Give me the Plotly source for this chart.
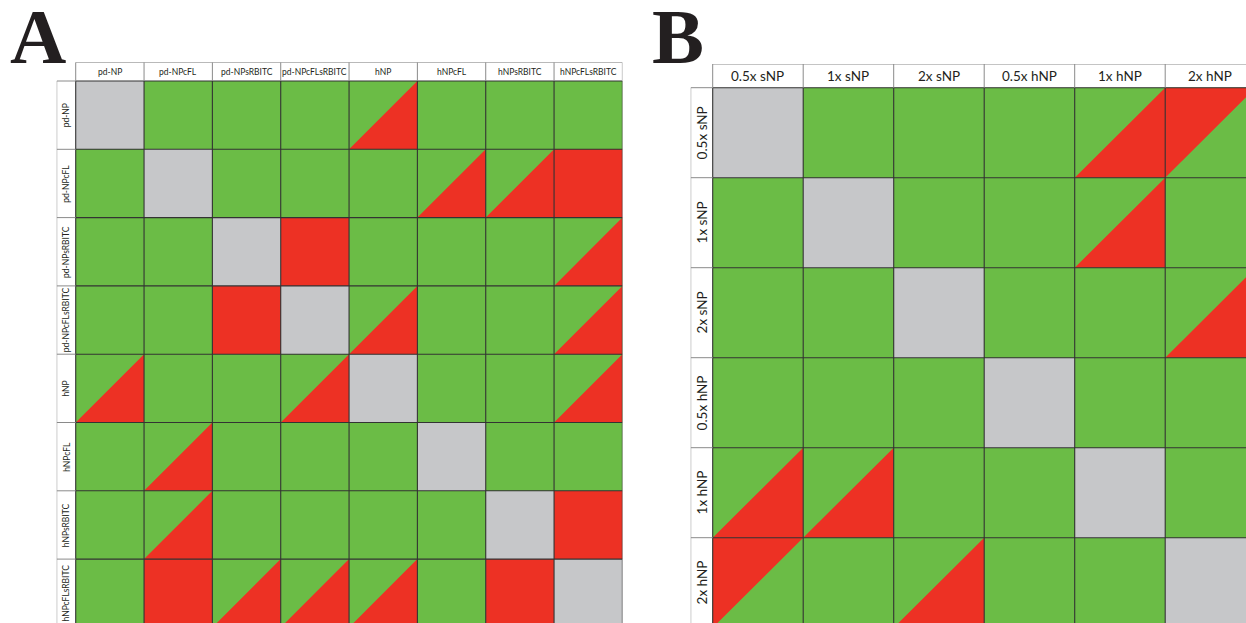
import plotly.graph_objects as go

# Pairwise comparison codes: 0 = self (n/a), 1 = green, 2 = red,
# 3 = split with red lower-right half, 4 = split with red upper-left half
labels_a = ["pd-NP", "pd-NPcFL", "pd-NPsRBITC", "pd-NPcFLsRBITC",
            "hNP", "hNPcFL", "hNPsRBITC", "hNPcFLsRBITC"]
codes_a = [
    [0, 1, 1, 1, 3, 1, 1, 1],
    [1, 0, 1, 1, 1, 3, 3, 2],
    [1, 1, 0, 2, 1, 1, 1, 3],
    [1, 1, 2, 0, 3, 1, 1, 3],
    [3, 1, 1, 3, 0, 1, 1, 3],
    [1, 3, 1, 1, 1, 0, 1, 1],
    [1, 3, 1, 1, 1, 1, 0, 2],
    [1, 2, 3, 3, 3, 1, 2, 0],
]

labels_b = ["0.5x sNP", "1x sNP", "2x sNP", "0.5x hNP", "1x hNP", "2x hNP"]
codes_b = [
    [0, 1, 1, 1, 3, 4],
    [1, 0, 1, 1, 3, 1],
    [1, 1, 0, 1, 1, 3],
    [1, 1, 1, 0, 1, 1],
    [3, 3, 1, 1, 0, 1],
    [4, 1, 3, 1, 1, 0],
]

GREEN = "#6bbc46"
RED = "#ed3124"
GRAY = "#c6c7c9"
GRID = "#333333"
HEAD = "#8a8a8a"
TEXT = "#231f20"

W, H = 1246, 623

fig = go.Figure()


def add_panel(codes, labels, xa, ya, hx, hy, font_size):
    n = len(labels)
    xref = "x" if xa == 1 else f"x{xa}"
    yref = "y" if ya == 1 else f"y{ya}"
    base = [[1 if v in (3, 4) else v for v in row] for row in codes]
    fig.add_trace(go.Heatmap(
        z=base, x=list(range(n)), y=list(range(n)),
        zmin=0, zmax=2,
        colorscale=[[0, GRAY], [0.25, GRAY], [0.25, GREEN], [0.75, GREEN],
                    [0.75, RED], [1, RED]],
        showscale=False, hoverinfo="skip", xaxis=xref, yaxis=yref))

    # red triangles for split cells
    tx, ty = [], []
    for r, row in enumerate(codes):
        for c, v in enumerate(row):
            if v == 3:
                tx += [c - 0.5, c + 0.5, c + 0.5, c - 0.5, None]
                ty += [r + 0.5, r - 0.5, r + 0.5, r + 0.5, None]
            elif v == 4:
                tx += [c - 0.5, c + 0.5, c - 0.5, c - 0.5, None]
                ty += [r + 0.5, r - 0.5, r - 0.5, r + 0.5, None]
    fig.add_trace(go.Scatter(
        x=tx, y=ty, mode="none", fill="toself", fillcolor=RED,
        hoverinfo="skip", showlegend=False, xaxis=xref, yaxis=yref))

    # cell grid
    gx, gy = [], []
    for k in range(n + 1):
        p = k - 0.5
        gx += [p, p, None, -0.5, n - 0.5, None]
        gy += [-0.5, n - 0.5, None, p, p, None]
    fig.add_trace(go.Scatter(
        x=gx, y=gy, mode="lines", line=dict(color=GRID, width=1.1),
        hoverinfo="skip", showlegend=False, xaxis=xref, yaxis=yref))

    # header row and label column outlines
    top = -0.5 - hy
    left = -0.5 - hx
    hx_, hy_ = [-0.5, n - 0.5, None, left, left, None], [top, top, None, -0.5, n - 0.5, None]
    for k in range(n + 1):
        p = k - 0.5
        hx_ += [p, p, None, left, -0.5, None]
        hy_ += [top, -0.5, None, p, p, None]
    fig.add_trace(go.Scatter(
        x=hx_, y=hy_, mode="lines", line=dict(color=HEAD, width=1),
        hoverinfo="skip", showlegend=False, xaxis=xref, yaxis=yref))

    for i, lab in enumerate(labels):
        fig.add_annotation(x=i, y=-0.5 - hy / 2, xref=xref, yref=yref,
                           text=lab, showarrow=False,
                           font=dict(family="Lato", size=font_size, color=TEXT))
        fig.add_annotation(x=-0.5 - hx / 2, y=i, xref=xref, yref=yref,
                           text=lab, showarrow=False, textangle=-90,
                           font=dict(family="Lato", size=font_size, color=TEXT))


# panel A geometry (cell size ~68.3 px, header band ~19 px)
ca = 68.3
hxa = (75.7 - 56.7) / ca
hya = (81.0 - 62.3) / ca
add_panel(codes_a, labels_a, 1, 1, hxa, hya, 8.5)

# panel B geometry (cells ~90.5 x 90 px, header band ~23 px)
cbx, cby = 90.5, 90.0
hxb = (712.7 - 690.7) / cbx
hyb = (87.7 - 64.0) / cby
add_panel(codes_b, labels_b, 2, 2, hxb, hyb, 13.5)

na, nb = len(labels_a), len(labels_b)
axis_common = dict(showgrid=False, zeroline=False, showticklabels=False,
                   ticks="", showline=False, fixedrange=True)

fig.update_layout(
    width=W, height=H,
    margin=dict(l=0, r=0, t=0, b=0),
    paper_bgcolor="white", plot_bgcolor="white",
    showlegend=False,
    xaxis=dict(domain=[56.7 / W, 622.4 / W], range=[-0.5 - hxa, na - 0.5],
               anchor="y", **axis_common),
    yaxis=dict(domain=[0, 1 - 62.3 / H],
               range=[na - 0.5 - (627.4 - H) / ca, -0.5 - hya],
               anchor="x", **axis_common),
    xaxis2=dict(domain=[690.7 / W, 1],
                range=[-0.5 - hxb, nb - 0.5 - (712.7 + nb * cbx - W) / cbx],
                anchor="y2", **axis_common),
    yaxis2=dict(domain=[0, 1 - 64.0 / H],
                range=[nb - 0.5 - (87.7 + nb * cby - H) / cby, -0.5 - hyb],
                anchor="x2", **axis_common),
)

# panel letters
for letter, cx in (("A", 37.5), ("B", 678.0)):
    fig.add_annotation(x=cx / W, y=1 - 36.0 / H, xref="paper", yref="paper",
                       text=f"<b>{letter}</b>", showarrow=False,
                       xanchor="center", yanchor="middle",
                       font=dict(family="Liberation Serif", size=78, color=TEXT))

fig.write_html("out.html")
